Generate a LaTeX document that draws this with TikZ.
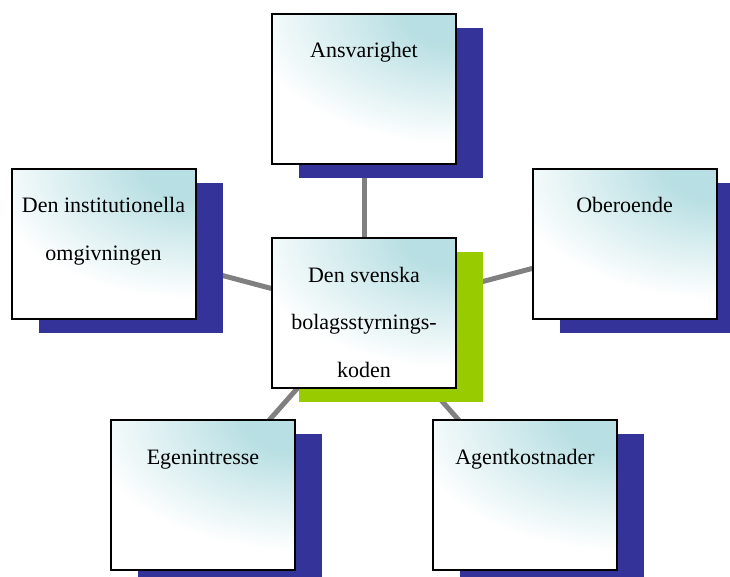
\documentclass[tikz,border=0pt]{standalone}
\usepackage{fontspec}
\setmainfont{Liberation Serif}
\usetikzlibrary{shadows,backgrounds}
\definecolor{shadeteal}{RGB}{184,223,227}
\definecolor{shadowblue}{RGB}{51,51,153}
\definecolor{shadowgreen}{RGB}{153,204,0}
\definecolor{linkgray}{RGB}{128,128,128}
\pgfdeclareradialshading{cornershade}{\pgfpoint{0bp}{0bp}}{color(0bp)=(shadeteal); color(3bp)=(shadeteal); color(12.5bp)=(white); color(50bp)=(white)}
\begin{document}
\begin{tikzpicture}[x=1pt,y=-1pt,
  box/.style={draw=black, line width=2pt, minimum width=184pt, minimum height=150pt,
    inner sep=0pt, fill=white,
    path picture={\shade[shading=cornershade] (path picture bounding box.north east) ellipse [x radius=420pt, y radius=260pt];},
    general shadow={fill=shadowblue, shadow xshift=27pt, shadow yshift=-14pt}},
  greenbox/.style={box, general shadow={fill=shadowgreen, shadow xshift=27pt, shadow yshift=-14pt}},
  lbl/.style={anchor=base, align=center, inner sep=0pt,
    font=\fontsize{22}{47.5}\selectfont},
  link/.style={draw=linkgray, line width=5pt}]
\useasboundingbox (0,0) rectangle (730,577);
\clip (0,0) rectangle (730,577);
\node[box] (top) at (364,89) {};
\node[box] (left) at (103.5,244) {};
\node[box] (right) at (624.5,244) {};
\node[box] (bl) at (203,495) {};
\node[box] (br) at (525,495) {};
\node[greenbox] (center) at (364,313) {};
\node[lbl] (topt) at ([yshift=-45pt]top.north) {Ansvarighet};
\node[lbl] (leftt) at ([yshift=-92.5pt]left.north) {Den institutionella\\omgivningen};
\node[lbl] (rightt) at ([yshift=-45pt]right.north) {Oberoende};
\node[lbl] (blt) at ([yshift=-45pt]bl.north) {Egenintresse};
\node[lbl] (brt) at ([yshift=-45pt]br.north) {Agentkostnader};
\node[lbl] (centert) at ([yshift=-140pt]center.north) {Den svenska\\bolagsstyrnings-\\koden};
\begin{pgfonlayer}{background}
\draw[link] (center.center) -- (top.center);
\draw[link] (center.center) -- (left.center);
\draw[link] (center.center) -- (right.center);
\draw[link] (center.center) -- (bl.center);
\draw[link] (center.center) -- (br.center);
\end{pgfonlayer}
\end{tikzpicture}
\end{document}
